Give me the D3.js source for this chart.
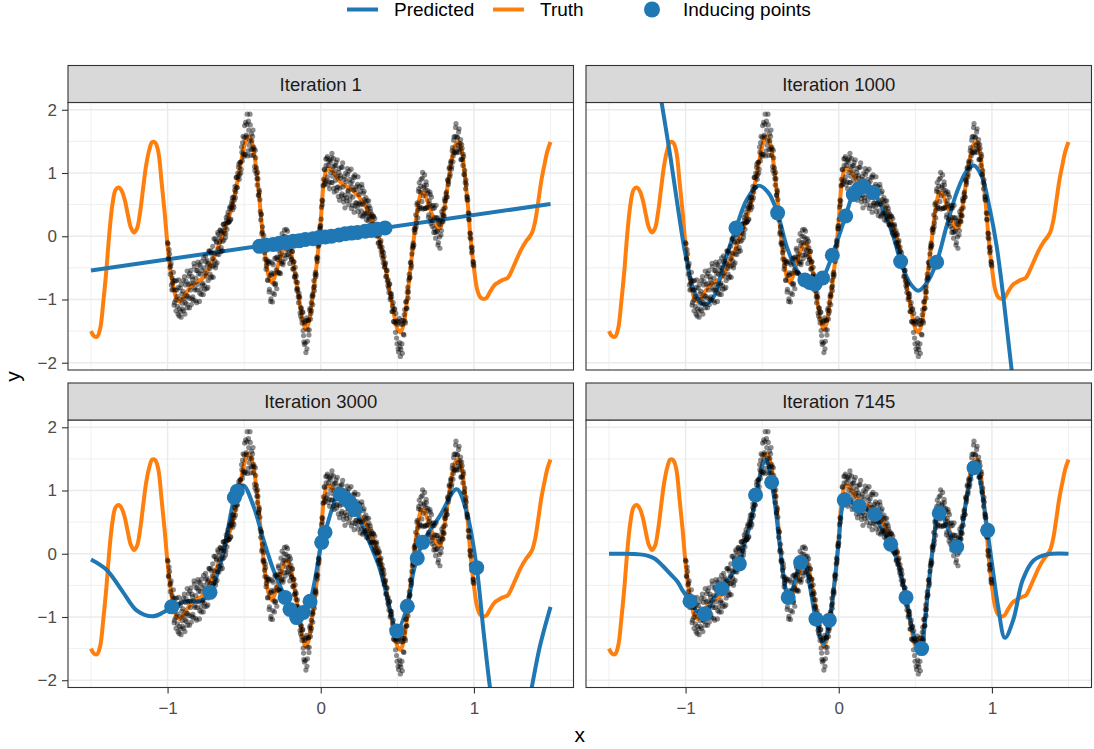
<!DOCTYPE html>
<html>
<head>
<meta charset="utf-8">
<script src="https://cdn.jsdelivr.net/npm/d3@7"></script>
<style>
  body { margin: 0; background: #fff; }
  svg { display: block; font-family: "Liberation Sans", Arial, Helvetica, sans-serif; }
</style>
</head>
<body>
<div id="chart"></div>
<script>
// ---- data ----
const panelTitles = ["Iteration 1", "Iteration 1000", "Iteration 3000", "Iteration 7145"];
const xTicks = [-1, 0, 1];
const yTicks = [-2, -1, 0, 1, 2];

// true function, [x, y]
const truthCurve = [
  [-1.50,-1.50],[-1.48,-1.58],[-1.46,-1.59],[-1.44,-1.46],[-1.42,-1.05],[-1.40,-0.55],[-1.38,0.05],[-1.36,0.50],
  [-1.34,0.73],[-1.32,0.77],[-1.30,0.72],[-1.28,0.58],[-1.26,0.35],[-1.24,0.14],[-1.22,0.06],[-1.20,0.12],
  [-1.18,0.37],[-1.16,0.75],[-1.14,1.12],[-1.12,1.36],[-1.10,1.49],[-1.08,1.48],[-1.06,1.33],[-1.04,0.88],
  [-1.02,0.40],[-1.00,-0.15],[-0.98,-0.55],[-0.96,-0.82],[-0.94,-1.00],[-0.92,-1.03],[-0.90,-0.98],[-0.88,-0.90],
  [-0.86,-0.83],[-0.84,-0.78],[-0.82,-0.74],[-0.80,-0.71],[-0.78,-0.68],[-0.76,-0.64],[-0.74,-0.55],[-0.72,-0.45],
  [-0.70,-0.35],[-0.68,-0.23],[-0.66,-0.11],[-0.64,0.01],[-0.62,0.15],[-0.60,0.30],[-0.58,0.46],[-0.56,0.68],
  [-0.54,0.92],[-0.52,1.18],[-0.50,1.42],[-0.48,1.57],[-0.46,1.55],[-0.44,1.38],[-0.42,1.05],[-0.40,0.58],
  [-0.38,0.05],[-0.36,-0.35],[-0.34,-0.63],[-0.32,-0.73],[-0.30,-0.64],[-0.28,-0.47],[-0.26,-0.32],[-0.24,-0.17],
  [-0.22,-0.11],[-0.20,-0.20],[-0.18,-0.43],[-0.16,-0.72],[-0.14,-1.02],[-0.12,-1.30],[-0.10,-1.47],[-0.08,-1.38],
  [-0.06,-1.08],[-0.04,-0.72],[-0.02,-0.30],[0.00,0.25],[0.02,0.85],[0.04,1.06],[0.06,1.07],[0.08,1.02],
  [0.10,0.95],[0.12,0.88],[0.14,0.83],[0.16,0.80],[0.18,0.77],[0.20,0.74],[0.22,0.70],[0.24,0.65],
  [0.26,0.59],[0.28,0.52],[0.30,0.44],[0.32,0.35],[0.34,0.25],[0.36,0.12],[0.38,-0.02],[0.40,-0.25],
  [0.42,-0.47],[0.44,-0.74],[0.46,-1.00],[0.48,-1.26],[0.50,-1.46],[0.52,-1.52],[0.54,-1.40],[0.56,-1.08],
  [0.58,-0.62],[0.60,-0.21],[0.62,0.22],[0.64,0.55],[0.66,0.70],[0.68,0.66],[0.70,0.52],[0.72,0.39],
  [0.74,0.26],[0.76,0.14],[0.78,0.13],[0.80,0.35],[0.82,0.66],[0.84,0.99],[0.86,1.28],[0.88,1.45],
  [0.90,1.49],[0.92,1.36],[0.94,0.98],[0.96,0.50],[0.98,-0.08],[1.00,-0.50],[1.02,-0.83],[1.04,-0.96],
  [1.06,-0.99],[1.08,-0.98],[1.10,-0.90],[1.12,-0.82],[1.14,-0.76],[1.16,-0.73],[1.18,-0.70],[1.20,-0.68],
  [1.22,-0.66],[1.24,-0.58],[1.26,-0.47],[1.28,-0.36],[1.30,-0.25],[1.32,-0.16],[1.34,-0.08],[1.36,-0.02],
  [1.38,0.06],[1.40,0.24],[1.42,0.55],[1.44,0.88],[1.46,1.13],[1.48,1.35],[1.50,1.49]
];

const observationsA = [
  [-1.0,-0.10],[-0.995,-0.35],[-0.99,-0.21],[-0.985,-0.49],[-0.98,-0.47],[-0.975,-0.77],[-0.97,-0.66],[-0.965,-0.84],
  [-0.96,-0.70],[-0.955,-1.05],[-0.95,-0.85],[-0.945,-1.18],[-0.94,-0.85],[-0.935,-1.11],[-0.93,-0.81],[-0.925,-1.26],
  [-0.92,-0.99],[-0.915,-1.19],[-0.91,-0.76],[-0.905,-1.06],[-0.90,-0.87],[-0.895,-1.18],[-0.89,-0.64],[-0.885,-1.05],
  [-0.88,-0.71],[-0.875,-0.94],[-0.87,-1.13],[-0.865,-0.76],[-0.86,-0.98],[-0.855,-0.59],[-0.85,-0.85],[-0.845,-1.08],
  [-0.84,-0.64],[-0.835,-0.96],[-0.83,-0.74],[-0.825,-0.48],[-0.82,-0.85],[-0.815,-0.66],[-0.81,-1.05],[-0.805,-0.54],
  [-0.80,-0.76],[-0.795,-0.45],[-0.79,-0.90],[-0.785,-0.60],[-0.78,-0.92],[-0.775,-0.54],[-0.77,-0.74],[-0.765,-0.34],
  [-0.76,-0.78],[-0.755,-0.58],[-0.75,-0.40],[-0.745,-0.83],[-0.74,-0.45],[-0.735,-0.70],[-0.73,-0.23],[-0.725,-0.51],
  [-0.72,-0.66],[-0.715,-0.27],[-0.71,-0.47],[-0.705,-0.16],[-0.70,-0.47],[-0.695,-0.27],[-0.69,-0.04],[-0.685,-0.45],
  [-0.68,-0.10],[-0.675,-0.28],[-0.67,0.03],[-0.665,-0.29],[-0.66,-0.09],[-0.655,0.09],[-0.65,-0.18],[-0.645,0.08],
  [-0.64,-0.08],[-0.635,0.19],[-0.63,0.05],[-0.625,0.20],[-0.62,0.04],[-0.615,0.25],[-0.61,0.21],[-0.605,0.38],
  [-0.60,0.23],[-0.595,0.44],[-0.59,0.26],[-0.585,0.45],[-0.58,0.55],[-0.575,0.42],[-0.57,0.62],[-0.565,0.57],
  [-0.56,0.79],[-0.555,0.70],[-0.55,0.93],[-0.545,0.77],[-0.54,0.94],[-0.535,1.14],[-0.53,0.97],[-0.525,1.17],
  [-0.52,1.06],[-0.515,1.33],[-0.51,1.48],[-0.505,1.30],[-0.50,1.56],[-0.495,1.29],[-0.49,1.80],[-0.485,1.60],
  [-0.48,1.93],[-0.475,1.35],[-0.47,1.68],[-0.465,1.51],[-0.46,1.76],[-0.455,1.37],[-0.45,1.51],[-0.445,1.58],
  [-0.44,1.28],[-0.435,1.38],[-0.43,1.04],[-0.425,1.24],[-0.42,1.08],[-0.415,0.81],[-0.41,0.91],[-0.405,0.65],
  [-0.40,0.70],[-0.395,0.39],[-0.39,0.34],[-0.385,0.04],[-0.38,0.15],[-0.375,-0.13],[-0.37,-0.11],[-0.365,-0.36],
  [-0.36,-0.22],[-0.355,-0.47],[-0.35,-0.41],[-0.345,-0.70],[-0.34,-0.43],[-0.335,-0.84],[-0.33,-0.62],[-0.325,-0.99],
  [-0.32,-0.58],[-0.315,-1.04],[-0.31,-0.45],[-0.305,-0.75],[-0.30,-0.35],[-0.295,-0.75],[-0.29,-0.53],[-0.285,-0.33],
  [-0.28,-0.57],[-0.275,-0.22],[-0.27,-0.57],[-0.265,-0.28],[-0.26,-0.07],[-0.255,-0.40],[-0.25,-0.15],[-0.245,-0.41],
  [-0.24,0.00],[-0.235,-0.30],[-0.23,-0.10],[-0.225,0.11],[-0.22,-0.29],[-0.215,-0.04],[-0.21,-0.22],[-0.205,-0.04],
  [-0.20,-0.32],[-0.195,-0.18],[-0.19,-0.37],[-0.185,-0.24],[-0.18,-0.51],[-0.175,-0.40],[-0.17,-0.65],[-0.165,-0.60],
  [-0.16,-0.63],[-0.155,-0.86],[-0.15,-0.83],[-0.145,-1.05],[-0.14,-0.95],[-0.135,-1.21],[-0.13,-1.13],[-0.125,-1.31],
  [-0.12,-1.20],[-0.115,-1.49],[-0.11,-1.67],[-0.105,-1.37],[-0.10,-1.69],[-0.095,-1.33],[-0.09,-1.78],[-0.085,-1.48],
  [-0.08,-1.33],[-0.075,-1.48],[-0.07,-1.14],[-0.065,-1.22],[-0.06,-1.18],[-0.055,-0.92],[-0.05,-0.94],[-0.045,-0.70],
  [-0.04,-0.79],[-0.035,-0.57],[-0.03,-0.60],[-0.025,-0.33],[-0.02,-0.34],[-0.015,-0.07],[-0.01,-0.09],[-0.005,0.16],
  [0.0,0.17],[0.005,0.46],[0.01,0.50],[0.015,0.80],[0.02,0.81],[0.025,1.05],[0.03,0.87],[0.035,1.12],
  [0.04,1.23],[0.045,0.94],[0.05,1.12],[0.055,0.86],[0.06,1.21],[0.065,1.01],[0.07,1.24],[0.075,0.85],
  [0.08,1.10],[0.085,0.76],[0.09,1.11],[0.095,0.88],[0.10,1.17],[0.105,0.77],[0.11,0.95],[0.115,0.63],
  [0.12,1.07],[0.125,0.76],[0.13,0.96],[0.135,0.64],[0.14,1.09],[0.145,0.78],[0.15,0.54],[0.155,0.94],
  [0.16,0.65],[0.165,0.86],[0.17,0.56],[0.175,0.98],[0.18,0.71],[0.185,1.03],[0.19,0.57],[0.195,0.84],
  [0.20,0.44],[0.205,0.87],[0.21,0.62],[0.215,0.73],[0.22,0.93],[0.225,0.48],[0.23,0.74],[0.235,0.53],
  [0.24,0.82],[0.245,0.39],[0.25,0.66],[0.255,0.53],[0.26,0.71],[0.265,0.40],[0.27,0.77],[0.275,0.51],
  [0.28,0.33],[0.285,0.58],[0.29,0.37],[0.295,0.61],[0.30,0.37],[0.305,0.45],[0.31,0.24],[0.315,0.48],
  [0.32,0.27],[0.325,0.39],[0.33,0.18],[0.335,0.32],[0.34,0.20],[0.345,0.31],[0.35,0.05],[0.355,0.17],
  [0.36,0.02],[0.365,0.16],[0.37,0.02],[0.375,-0.11],[0.38,0.04],[0.385,-0.17],[0.39,-0.10],[0.395,-0.24],
  [0.40,-0.17],[0.405,-0.35],[0.41,-0.26],[0.415,-0.49],[0.42,-0.44],[0.425,-0.64],[0.43,-0.54],[0.435,-0.71],
  [0.44,-0.69],[0.445,-0.89],[0.45,-0.76],[0.455,-0.97],[0.46,-0.91],[0.465,-1.19],[0.47,-1.11],[0.475,-1.35],
  [0.48,-1.16],[0.485,-1.37],[0.49,-1.22],[0.495,-1.61],[0.50,-1.39],[0.505,-1.78],[0.51,-1.36],[0.515,-1.68],
  [0.52,-1.90],[0.525,-1.39],[0.53,-1.70],[0.535,-1.39],[0.54,-1.55],[0.545,-1.24],[0.55,-1.34],[0.555,-1.04],
  [0.56,-1.14],[0.565,-0.88],[0.57,-0.98],[0.575,-0.69],[0.58,-0.66],[0.585,-0.42],[0.59,-0.50],[0.595,-0.28],
  [0.60,-0.15],[0.605,-0.17],[0.61,0.10],[0.615,0.06],[0.62,0.34],[0.625,0.21],[0.63,0.53],[0.635,0.41],
  [0.64,0.75],[0.645,0.47],[0.65,0.70],[0.655,0.90],[0.66,0.55],[0.665,1.01],[0.67,0.64],[0.675,0.80],
  [0.68,0.44],[0.685,0.73],[0.69,0.81],[0.695,0.46],[0.70,0.68],[0.705,0.34],[0.71,0.51],[0.715,0.66],
  [0.72,0.20],[0.725,0.48],[0.73,0.25],[0.735,0.49],[0.74,0.12],[0.745,0.30],[0.75,-0.03],[0.755,0.29],
  [0.76,0.08],[0.765,-0.14],[0.77,0.24],[0.775,-0.01],[0.78,0.18],[0.785,0.02],[0.79,0.39],[0.795,0.24],
  [0.80,0.43],[0.805,0.32],[0.81,0.60],[0.815,0.56],[0.82,0.70],[0.825,0.62],[0.83,0.90],[0.835,0.86],
  [0.84,1.09],[0.845,0.98],[0.85,1.19],[0.855,1.10],[0.86,1.40],[0.865,1.27],[0.87,1.57],[0.875,1.32],
  [0.88,1.72],[0.885,1.34],[0.89,1.57],[0.895,1.44],[0.90,1.65],[0.905,1.33],[0.91,1.47],[0.915,1.21],
  [0.92,1.45],[0.925,1.21],[0.93,1.30],[0.935,0.98],[0.94,1.04],[0.945,0.75],[0.95,0.82],[0.955,0.58],
  [0.96,0.57],[0.965,0.27],[0.97,0.26],[0.975,-0.02],[0.98,-0.04],[0.985,-0.26],[0.99,-0.23],[0.995,-0.45],
  [1.0,-0.47]
];
const observationsB = [
  [-0.997,-0.12],[-0.992,-0.36],[-0.987,-0.28],[-0.982,-0.60],[-0.977,-0.43],[-0.972,-0.85],[-0.967,-0.74],[-0.962,-0.57],
  [-0.957,-1.09],[-0.952,-0.71],[-0.947,-1.01],[-0.942,-0.70],[-0.937,-0.95],[-0.932,-1.23],[-0.927,-0.69],[-0.922,-1.15],
  [-0.917,-0.82],[-0.912,-1.28],[-0.907,-0.91],[-0.902,-1.15],[-0.897,-0.70],[-0.892,-0.99],[-0.887,-1.23],[-0.882,-0.77],
  [-0.877,-1.07],[-0.872,-0.55],[-0.867,-0.95],[-0.862,-0.63],[-0.857,-1.13],[-0.852,-0.75],[-0.847,-0.54],[-0.842,-0.99],
  [-0.837,-0.68],[-0.832,-1.01],[-0.827,-0.43],[-0.822,-0.82],[-0.817,-1.02],[-0.812,-0.54],[-0.807,-0.85],[-0.802,-0.41],
  [-0.797,-0.59],[-0.792,-1.03],[-0.787,-0.47],[-0.782,-0.84],[-0.777,-0.40],[-0.772,-0.77],[-0.767,-0.92],[-0.762,-0.50],
  [-0.757,-0.84],[-0.752,-0.31],[-0.747,-0.63],[-0.742,-0.38],[-0.737,-0.81],[-0.732,-0.43],[-0.727,-0.24],[-0.722,-0.60],
  [-0.717,-0.23],[-0.712,-0.64],[-0.707,-0.35],[-0.702,-0.65],[-0.697,-0.04],[-0.692,-0.39],[-0.687,-0.50],[-0.682,-0.08],
  [-0.677,-0.42],[-0.672,0.06],[-0.667,-0.20],[-0.662,-0.02],[-0.657,0.10],[-0.652,-0.24],[-0.647,0.05],[-0.642,-0.23],
  [-0.637,0.19],[-0.632,-0.06],[-0.627,0.14],[-0.622,-0.02],[-0.617,0.30],[-0.612,0.11],[-0.607,0.33],[-0.602,0.22],
  [-0.597,0.23],[-0.592,0.47],[-0.587,0.27],[-0.582,0.51],[-0.577,0.61],[-0.572,0.49],[-0.567,0.46],[-0.562,0.73],
  [-0.557,0.61],[-0.552,0.93],[-0.547,0.77],[-0.542,1.00],[-0.537,1.09],[-0.532,0.90],[-0.527,1.17],[-0.522,1.00],
  [-0.517,1.41],[-0.512,1.19],[-0.507,1.58],[-0.502,1.26],[-0.497,1.75],[-0.492,1.29],[-0.487,1.57],[-0.482,1.77],
  [-0.477,1.27],[-0.472,1.82],[-0.467,1.44],[-0.462,1.93],[-0.457,1.28],[-0.452,1.62],[-0.447,1.38],[-0.442,1.68],
  [-0.437,1.41],[-0.432,1.10],[-0.427,1.36],[-0.422,0.99],[-0.417,0.91],[-0.412,1.01],[-0.407,0.65],[-0.402,0.73],
  [-0.397,0.58],[-0.392,0.26],[-0.387,0.35],[-0.382,0.07],[-0.377,-0.10],[-0.372,0.02],[-0.367,-0.26],[-0.362,-0.16],
  [-0.357,-0.52],[-0.352,-0.37],[-0.347,-0.69],[-0.342,-0.40],[-0.337,-0.88],[-0.332,-0.40],[-0.327,-1.03],[-0.322,-0.61],
  [-0.317,-0.42],[-0.312,-0.90],[-0.307,-0.59],[-0.302,-0.92],[-0.297,-0.77],[-0.292,-0.34],[-0.287,-0.83],[-0.282,-0.37],
  [-0.277,-0.19],[-0.272,-0.59],[-0.267,-0.33],[-0.262,-0.59],[-0.257,-0.43],[-0.252,0.04],[-0.247,-0.45],[-0.242,-0.10],
  [-0.237,0.10],[-0.232,-0.35],[-0.227,-0.01],[-0.222,-0.21],[-0.217,0.08],[-0.212,-0.29],[-0.207,-0.11],[-0.202,-0.43],
  [-0.197,-0.08],[-0.192,-0.36],[-0.187,-0.24],[-0.182,-0.52],[-0.177,-0.41],[-0.172,-0.64],[-0.167,-0.49],[-0.162,-0.72],
  [-0.157,-0.83],[-0.152,-0.73],[-0.147,-0.96],[-0.142,-0.90],[-0.137,-0.97],[-0.132,-1.26],[-0.127,-1.14],[-0.122,-1.37],
  [-0.117,-1.20],[-0.112,-1.57],[-0.107,-1.71],[-0.102,-1.35],[-0.097,-1.84],[-0.092,-1.29],[-0.087,-1.66],[-0.082,-1.33],
  [-0.077,-1.56],[-0.072,-1.17],[-0.067,-1.31],[-0.062,-1.05],[-0.057,-0.96],[-0.052,-1.08],[-0.047,-0.81],[-0.042,-0.86],
  [-0.037,-0.61],[-0.032,-0.64],[-0.027,-0.36],[-0.022,-0.40],[-0.017,-0.16],[-0.012,-0.14],[-0.007,0.12],[-0.002,0.12],
  [0.003,0.27],[0.008,0.57],[0.013,0.56],[0.018,0.90],[0.023,1.06],[0.028,0.83],[0.033,1.22],[0.038,0.88],
  [0.043,1.26],[0.048,0.81],[0.053,1.19],[0.058,0.75],[0.063,1.17],[0.068,0.85],[0.073,1.31],[0.078,0.95],
  [0.083,1.23],[0.088,0.70],[0.093,1.03],[0.098,1.12],[0.103,0.72],[0.108,1.21],[0.113,0.78],[0.118,1.01],
  [0.123,0.57],[0.128,0.92],[0.133,1.09],[0.138,0.67],[0.143,1.16],[0.148,0.60],[0.153,0.90],[0.158,0.45],
  [0.163,1.00],[0.168,0.61],[0.173,1.07],[0.178,0.72],[0.183,0.50],[0.188,0.90],[0.193,0.64],[0.198,1.06],
  [0.203,0.78],[0.208,0.49],[0.213,0.94],[0.218,0.38],[0.223,0.97],[0.228,0.53],[0.233,0.78],[0.238,0.46],
  [0.243,0.94],[0.248,0.51],[0.253,0.79],[0.258,0.33],[0.263,0.50],[0.268,0.82],[0.273,0.31],[0.278,0.68],
  [0.283,0.71],[0.288,0.35],[0.293,0.54],[0.298,0.26],[0.303,0.56],[0.308,0.31],[0.313,0.56],[0.318,0.31],
  [0.323,0.44],[0.328,0.18],[0.333,0.35],[0.338,0.18],[0.343,0.32],[0.348,0.11],[0.353,0.28],[0.358,0.08],
  [0.363,0.19],[0.368,0.00],[0.373,0.09],[0.378,-0.10],[0.383,0.02],[0.388,-0.16],[0.393,-0.07],[0.398,-0.30],
  [0.403,-0.23],[0.408,-0.42],[0.413,-0.32],[0.418,-0.48],[0.423,-0.42],[0.428,-0.63],[0.433,-0.54],[0.438,-0.78],
  [0.443,-0.82],[0.448,-0.75],[0.453,-1.00],[0.458,-0.91],[0.463,-0.96],[0.468,-1.19],[0.473,-1.05],[0.478,-1.35],
  [0.483,-1.15],[0.488,-1.52],[0.493,-1.34],[0.498,-1.70],[0.503,-1.34],[0.508,-1.83],[0.513,-1.30],[0.518,-1.75],
  [0.523,-1.79],[0.528,-1.33],[0.533,-1.85],[0.538,-1.33],[0.543,-1.56],[0.548,-1.16],[0.553,-1.37],[0.558,-1.03],
  [0.563,-1.14],[0.568,-0.81],[0.573,-0.88],[0.578,-0.60],[0.583,-0.65],[0.588,-0.41],[0.593,-0.46],[0.598,-0.19],
  [0.603,-0.11],[0.608,-0.14],[0.613,0.13],[0.618,0.11],[0.623,0.15],[0.628,0.50],[0.633,0.29],[0.638,0.71],
  [0.643,0.85],[0.648,0.44],[0.653,0.79],[0.658,0.45],[0.663,0.92],[0.668,0.43],[0.673,0.77],[0.678,0.97],
  [0.683,0.44],[0.688,0.86],[0.693,0.45],[0.698,0.72],[0.703,0.30],[0.708,0.56],[0.713,0.70],[0.718,0.27],
  [0.723,0.62],[0.728,0.16],[0.733,0.44],[0.738,0.06],[0.743,0.45],[0.748,0.06],[0.753,0.49],[0.758,0.07],
  [0.763,0.29],[0.768,-0.10],[0.773,0.20],[0.778,-0.19],[0.783,0.26],[0.788,0.09],[0.793,0.34],[0.798,0.23],
  [0.803,0.33],[0.808,0.56],[0.813,0.45],[0.818,0.67],[0.823,0.62],[0.828,0.88],[0.833,0.82],[0.838,1.07],
  [0.843,0.94],[0.848,1.16],[0.853,1.06],[0.858,1.35],[0.863,1.18],[0.868,1.52],[0.873,1.33],[0.878,1.58],
  [0.883,1.78],[0.888,1.32],[0.893,1.56],[0.898,1.39],[0.903,1.70],[0.908,1.37],[0.913,1.53],[0.918,1.22],
  [0.923,1.39],[0.928,1.12],[0.933,1.26],[0.938,0.97],[0.943,0.85],[0.948,0.89],[0.953,0.63],[0.958,0.62],
  [0.963,0.37],[0.968,0.36],[0.973,0.05],[0.978,0.04],[0.983,-0.18],[0.988,-0.17],[0.993,-0.40],[0.998,-0.41]
];
const observations = observationsA.concat(observationsB);

// predicted means, [x, y] (parts outside the panel get clipped)
const predicted1 = [[-1.5,-0.54],[1.5,0.51]];
const predicted1000 = [
  [-1.5,8.0],[-1.3,4.5],[-1.2,2.8],[-1.156,2.11],[-1.10,1.27],[-1.05,0.45],[-1.00,-0.30],[-0.94,-0.90],
  [-0.884,-1.08],[-0.82,-0.97],[-0.754,-0.47],[-0.671,0.13],[-0.60,0.58],[-0.525,0.80],[-0.46,0.69],[-0.40,0.37],
  [-0.34,-0.16],[-0.275,-0.53],[-0.221,-0.69],[-0.155,-0.76],[-0.105,-0.66],[-0.042,-0.30],[0.045,0.32],[0.095,0.66],
  [0.16,0.79],[0.225,0.69],[0.29,0.42],[0.356,0.0],[0.404,-0.40],[0.465,-0.74],[0.519,-0.86],[0.574,-0.74],
  [0.639,-0.41],[0.704,0.16],[0.77,0.69],[0.835,1.03],[0.883,1.12],[0.933,0.95],[0.987,0.42],[1.031,-0.16],
  [1.074,-0.95],[1.128,-2.1],[1.2,-3.7],[1.5,-11]
];
const predicted3000 = [
  [-1.50,-0.09],[-1.40,-0.25],[-1.29,-0.61],[-1.20,-0.90],[-1.10,-0.99],[-1.03,-0.93],[-0.973,-0.84],[-0.875,-0.75],
  [-0.79,-0.75],[-0.723,-0.61],[-0.647,-0.09],[-0.564,0.89],[-0.545,0.99],[-0.505,1.08],[-0.44,0.76],[-0.375,0.23],
  [-0.31,-0.25],[-0.233,-0.69],[-0.201,-0.88],[-0.157,-1.01],[-0.114,-0.93],[-0.07,-0.75],[0.006,0.18],[0.028,0.34],
  [0.104,0.90],[0.126,0.94],[0.191,0.81],[0.224,0.70],[0.30,0.28],[0.387,-0.25],[0.452,-0.88],[0.496,-1.22],
  [0.565,-0.83],[0.604,-0.30],[0.63,-0.07],[0.665,0.18],[0.778,0.60],[0.887,1.02],[0.953,0.65],[1.018,-0.22],
  [1.061,-1.19],[1.105,-2.12],[1.16,-3.0],[1.24,-3.5],[1.31,-3.0],[1.377,-2.12],[1.431,-1.46],[1.50,-0.84]
];
const predicted7145 = [
  [-1.50,0.00],[-1.40,0.00],[-1.30,-0.01],[-1.25,-0.03],[-1.20,-0.08],[-1.15,-0.19],[-1.10,-0.32],[-1.05,-0.45],
  [-1.02,-0.58],[-0.97,-0.75],[-0.93,-0.90],[-0.87,-0.93],[-0.82,-0.72],[-0.76,-0.55],[-0.70,-0.34],[-0.65,-0.15],
  [-0.62,0.12],[-0.58,0.45],[-0.54,0.93],[-0.50,1.38],[-0.48,1.50],[-0.46,1.42],[-0.44,1.15],[-0.42,0.85],
  [-0.40,0.45],[-0.38,0.02],[-0.36,-0.36],[-0.33,-0.68],[-0.30,-0.55],[-0.27,-0.28],[-0.25,-0.14],[-0.22,-0.18],
  [-0.19,-0.50],[-0.15,-1.03],[-0.10,-1.42],[-0.06,-1.05],[-0.03,-0.50],[0.00,0.20],[0.02,0.70],[0.04,0.87],
  [0.08,0.82],[0.13,0.76],[0.18,0.70],[0.23,0.62],[0.28,0.40],[0.34,0.15],[0.38,-0.10],[0.44,-0.69],
  [0.48,-1.20],[0.52,-1.50],[0.54,-1.50],[0.56,-1.15],[0.58,-0.65],[0.60,-0.20],[0.62,0.20],[0.65,0.64],
  [0.68,0.58],[0.72,0.35],[0.77,0.11],[0.80,0.35],[0.84,0.95],[0.88,1.36],[0.90,1.40],[0.93,1.05],
  [0.97,0.38],[1.00,-0.15],[1.04,-0.83],[1.085,-1.33],[1.14,-1.04],[1.20,-0.42],[1.27,-0.11],[1.36,-0.01],[1.50,0.00]
];

// inducing points, [x, y]
const inducing1 = [
  [-0.40,-0.16],[-0.36,-0.14],[-0.31,-0.13],[-0.27,-0.11],[-0.22,-0.10],[-0.18,-0.08],[-0.14,-0.07],[-0.10,-0.05],
  [-0.05,-0.04],[-0.01,-0.02],[0.03,-0.01],[0.07,0.00],[0.12,0.02],[0.16,0.04],[0.20,0.05],[0.24,0.06],
  [0.29,0.08],[0.33,0.09],[0.37,0.11],[0.42,0.13]
];
const inducing1000 = [
  [-0.671,0.13],[-0.399,0.37],[-0.221,-0.69],[-0.19,-0.73],[-0.155,-0.76],[-0.105,-0.66],[-0.042,-0.30],[0.045,0.32],
  [0.095,0.66],[0.13,0.75],[0.16,0.79],[0.225,0.69],[0.404,-0.40],[0.639,-0.41]
];
const inducing3000 = [
  [-0.973,-0.84],[-0.723,-0.61],[-0.564,0.89],[-0.545,0.99],[-0.233,-0.69],[-0.201,-0.88],[-0.157,-1.01],[-0.114,-0.93],
  [-0.07,-0.75],[0.006,0.18],[0.028,0.34],[0.126,0.94],[0.16,0.88],[0.191,0.81],[0.224,0.70],[0.496,-1.22],
  [0.565,-0.83],[0.63,-0.07],[0.665,0.18],[1.018,-0.22]
];
const inducing7145 = [
  [-0.971,-0.75],[-0.873,-0.95],[-0.764,-0.55],[-0.649,-0.16],[-0.543,0.93],[-0.438,1.13],[-0.33,-0.69],[-0.249,-0.14],
  [-0.149,-1.03],[-0.062,-1.05],[0.036,0.85],[0.134,0.75],[0.236,0.62],[0.339,0.15],[0.439,-0.69],[0.541,-1.50],
  [0.656,0.64],[0.77,0.11],[0.883,1.36],[0.972,0.37]
];

const predictedSets = [predicted1, predicted1000, predicted3000, predicted7145];
const inducingSets = [inducing1, inducing1000, inducing3000, inducing7145];

// ---- layout ----
const W = 1094, H = 749;
const colLeft = [68, 586];
const panelW = 505.5;
const stripTop = [65.5, 383];
const stripH = 37;
const plotH = 267.5;
const blue = "#1F77B4", orange = "#FF7F0E";

const svg = d3.select("#chart").append("svg")
  .attr("width", W).attr("height", H);
svg.append("rect").attr("width", W).attr("height", H).attr("fill", "#fff");

const x = d3.scaleLinear().domain([-1.65, 1.65]).range([0, panelW]);
const y = d3.scaleLinear().domain([-2.115, 2.115]).range([plotH, 0]);

const line = d3.line()
  .x(d => x(d[0]))
  .y(d => y(d[1]))
  .curve(d3.curveCatmullRom.alpha(0.5));

const fmt = d => d < 0 ? "\u2212" + Math.abs(d) : String(d);
const defs = svg.append("defs");

panelTitles.forEach((title, i) => {
  const col = i % 2, row = Math.floor(i / 2);
  const left = colLeft[col], top = stripTop[row] + stripH;
  const g = svg.append("g").attr("transform", `translate(${left},${top})`);

  // grid (minor then major)
  const minorX = [-1.5, -0.5, 0.5, 1.5], minorY = [-1.5, -0.5, 0.5, 1.5];
  g.selectAll(".mx").data(minorX).enter().append("line")
    .attr("x1", d => x(d)).attr("x2", d => x(d)).attr("y1", 0).attr("y2", plotH)
    .attr("stroke", "#EBEBEB").attr("stroke-width", 0.8);
  g.selectAll(".my").data(minorY).enter().append("line")
    .attr("y1", d => y(d)).attr("y2", d => y(d)).attr("x1", 0).attr("x2", panelW)
    .attr("stroke", "#EBEBEB").attr("stroke-width", 0.8);
  g.selectAll(".gx").data(xTicks).enter().append("line")
    .attr("x1", d => x(d)).attr("x2", d => x(d)).attr("y1", 0).attr("y2", plotH)
    .attr("stroke", "#EBEBEB").attr("stroke-width", 1.5);
  g.selectAll(".gy").data(yTicks).enter().append("line")
    .attr("y1", d => y(d)).attr("y2", d => y(d)).attr("x1", 0).attr("x2", panelW)
    .attr("stroke", "#EBEBEB").attr("stroke-width", 1.5);

  defs.append("clipPath").attr("id", "clip" + i)
    .append("rect").attr("width", panelW).attr("height", plotH);
  const inner = g.append("g").attr("clip-path", `url(#clip${i})`);

  inner.append("path").datum(truthCurve)
    .attr("d", line).attr("fill", "none")
    .attr("stroke", orange).attr("stroke-width", 4).attr("stroke-linejoin", "round");

  inner.append("path").datum(predictedSets[i])
    .attr("d", line).attr("fill", "none")
    .attr("stroke", blue).attr("stroke-width", 4).attr("stroke-linejoin", "round");

  inner.append("g").selectAll("circle").data(observations).enter().append("circle")
    .attr("cx", d => x(d[0])).attr("cy", d => y(d[1])).attr("r", 2.6)
    .attr("fill", "#000").attr("fill-opacity", 0.45);

  inner.append("g").selectAll("circle").data(inducingSets[i]).enter().append("circle")
    .attr("cx", d => x(d[0])).attr("cy", d => y(d[1])).attr("r", 7.5)
    .attr("fill", blue);

  g.append("rect").attr("width", panelW).attr("height", plotH)
    .attr("fill", "none").attr("stroke", "#333").attr("stroke-width", 1.1);

  // strip
  const s = svg.append("g").attr("transform", `translate(${left},${stripTop[row]})`);
  s.append("rect").attr("width", panelW).attr("height", stripH)
    .attr("fill", "#D9D9D9").attr("stroke", "#333").attr("stroke-width", 1.1);
  s.append("text").attr("x", panelW / 2).attr("y", stripH / 2).attr("dy", "0.36em")
    .attr("text-anchor", "middle").attr("font-size", 18.5).attr("fill", "#1A1A1A")
    .text(title);

  // axes
  if (row === 1) {
    const ax = g.append("g").attr("transform", `translate(0,${plotH})`)
      .call(d3.axisBottom(x).tickValues(xTicks).tickSize(6).tickPadding(8).tickFormat(fmt));
    ax.select(".domain").remove();
    ax.selectAll("line").attr("stroke", "#333").attr("stroke-width", 1.1);
    ax.selectAll("text").attr("font-size", 17).attr("fill", "#4D4D4D")
      .attr("font-family", "Liberation Sans, Arial, sans-serif");
  }
  if (col === 0) {
    const ay = g.append("g")
      .call(d3.axisLeft(y).tickValues(yTicks).tickSize(6).tickPadding(5).tickFormat(fmt));
    ay.select(".domain").remove();
    ay.selectAll("line").attr("stroke", "#333").attr("stroke-width", 1.1);
    ay.selectAll("text").attr("font-size", 17).attr("fill", "#4D4D4D")
      .attr("font-family", "Liberation Sans, Arial, sans-serif");
  }
});

// axis titles
svg.append("text").attr("x", (colLeft[0] + colLeft[1] + panelW) / 2).attr("y", 742)
  .attr("text-anchor", "middle").attr("font-size", 21).attr("fill", "#000").text("x");
svg.append("text")
  .attr("transform", `translate(20,${(stripTop[0] + stripTop[1] + stripH + plotH) / 2}) rotate(-90)`)
  .attr("text-anchor", "middle").attr("font-size", 21).attr("fill", "#000").text("y");

// legend
const legend = svg.append("g");
const lineKeys = [{ label: "Predicted", color: blue, x: 347 }, { label: "Truth", color: orange, x: 493 }];
lineKeys.forEach(k => {
  legend.append("line").attr("x1", k.x).attr("x2", k.x + 31).attr("y1", 9.5).attr("y2", 9.5)
    .attr("stroke", k.color).attr("stroke-width", 4);
  legend.append("text").attr("x", k.x + 47).attr("y", 16).attr("font-size", 19)
    .attr("fill", "#000").text(k.label);
});
legend.append("circle").attr("cx", 652).attr("cy", 9.5).attr("r", 8).attr("fill", blue);
legend.append("text").attr("x", 683).attr("y", 16).attr("font-size", 19)
  .attr("fill", "#000").text("Inducing points");
</script>
</body>
</html>
